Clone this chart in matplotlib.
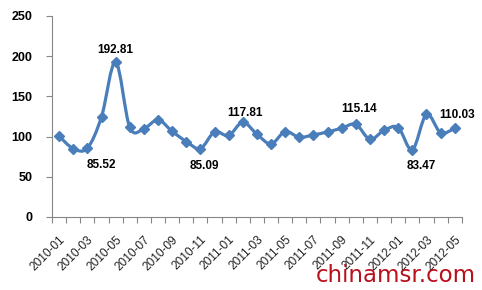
import matplotlib
matplotlib.use("Agg")
import matplotlib.pyplot as plt
from matplotlib.path import Path
from matplotlib.patches import PathPatch
import numpy as np

months = ["2010-01", "2010-02", "2010-03", "2010-04", "2010-05", "2010-06", "2010-07",
          "2010-08", "2010-09", "2010-10", "2010-11", "2010-12",
          "2011-01", "2011-02", "2011-03", "2011-04", "2011-05", "2011-06", "2011-07",
          "2011-08", "2011-09", "2011-10", "2011-11", "2011-12",
          "2012-01", "2012-02", "2012-03", "2012-04", "2012-05"]
values = [100.5, 85.0, 85.52, 124.5, 192.81, 111.4, 109.8, 120.8, 106.5, 93.8, 85.09,
          105.7, 101.3, 117.81, 102.8, 90.9, 106.1, 99.1, 102.0, 105.7, 110.4, 115.14,
          96.6, 107.7, 111.2, 83.47, 127.5, 104.9, 110.03]
labelled = {2: (14, -17), 4: (0, 12), 10: (4, -17), 13: (2, 9), 21: (3, 15),
            25: (9, -16), 28: (2, 13)}
yticks = [0, 50, 100, 150, 200, 250]

color = "#4A7EBB"
fig = plt.figure(figsize=(4.82, 2.90), dpi=100)
ax = fig.add_axes([0.108, 0.252, 0.85, 0.693])

x = np.arange(len(values))
y = np.array(values, dtype=float)

# Excel-like smoothed line (Catmull-Rom bezier through data points)
verts = [(x[0], y[0])]
codes = [Path.MOVETO]
n = len(x)
for i in range(n - 1):
    p0 = np.array([x[max(i - 1, 0)], y[max(i - 1, 0)]])
    p1 = np.array([x[i], y[i]])
    p2 = np.array([x[i + 1], y[i + 1]])
    p3 = np.array([x[min(i + 2, n - 1)], y[min(i + 2, n - 1)]])
    c1 = p1 + (p2 - p0) / 6.0
    c2 = p2 - (p3 - p1) / 6.0
    verts += [tuple(c1), tuple(c2), tuple(p2)]
    codes += [Path.CURVE4] * 3
ax.add_patch(PathPatch(Path(verts, codes), facecolor="none", edgecolor=color,
                       lw=2.3, capstyle="round", joinstyle="round", zorder=2))
ax.plot(x, y, linestyle="none", marker="D", markersize=5.5, color=color, zorder=3)

for i, (dx, dy) in labelled.items():
    ax.annotate(f"{values[i]:.2f}", (x[i], y[i]), xytext=(dx * 0.72, dy * 0.72),
                textcoords="offset points", ha="center", va="center",
                fontsize=8.5, fontweight="bold", family="Liberation Sans", color="black")

ax.set_xlim(-0.5, n - 0.5)
ax.set_ylim(0, 250)
ax.set_yticks(yticks)
ax.set_yticklabels([str(t) for t in yticks], fontsize=9, fontweight="bold",
                   family="Liberation Sans")
ax.set_xticks(x[::2])
ax.set_xticklabels(months[::2], rotation=45, ha="right", rotation_mode="anchor",
                   fontsize=8.6, family="Liberation Sans", color="#222222")
ax.set_xticks(np.arange(-0.5, n, 1.0), minor=True)
ax.tick_params(axis="x", which="major", length=0, pad=12)
ax.tick_params(axis="x", which="minor", length=4, color="#868686", width=0.8)
ax.tick_params(axis="y", length=4, color="#868686", width=0.8, pad=10)
for s in ["top", "right"]:
    ax.spines[s].set_visible(False)
for s in ["left", "bottom"]:
    ax.spines[s].set_color("#868686")
    ax.spines[s].set_linewidth(0.8)

fig.text(0.987, 0.01, "chinamsr.com", ha="right", va="bottom", fontsize=16.5,
         color="#B8101C", family="DejaVu Sans")

fig.savefig("out.png", dpi=100)
